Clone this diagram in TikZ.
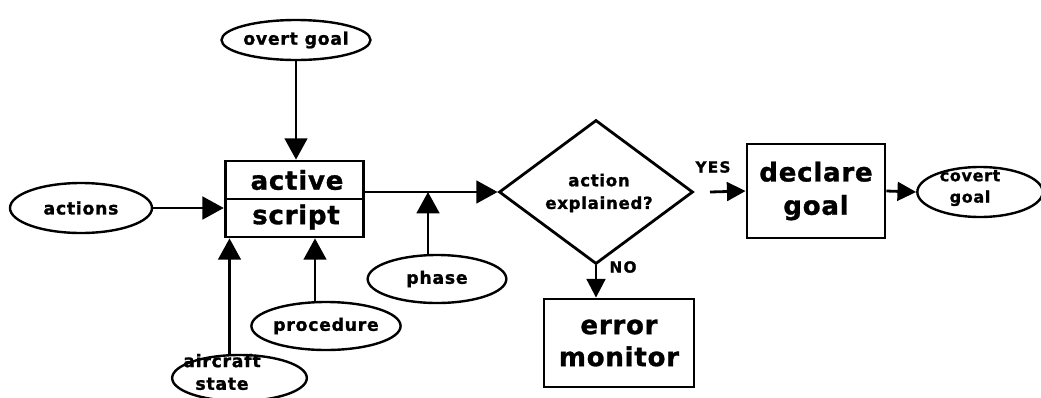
\documentclass[tikz,border=0pt]{standalone}
\usepackage{fontspec}
\newfontfamily\smf[LetterSpace=4,BoldFeatures={FakeBold=1.2}]{DejaVu Sans}
\newfontfamily\lbf[LetterSpace=8,BoldFeatures={FakeBold=1.2}]{DejaVu Sans}
\newfontfamily\bigf[LetterSpace=3,BoldFeatures={FakeBold=1.2}]{DejaVu Sans}
\usetikzlibrary{arrows.meta,shapes.geometric}
\begin{document}
\begin{tikzpicture}[x=0.75pt,y=-0.75pt,
  oval/.style={ellipse,draw,line width=1.8pt,inner sep=0pt,font=\smf\bfseries\fontsize{13}{14}\selectfont,align=center},
  bigbox/.style={rectangle,draw,line width=2.1pt,inner sep=0pt,font=\bigf\bfseries\fontsize{19.5}{24}\selectfont,align=center},
  smalltxt/.style={inner sep=0pt,font=\smf\bfseries\fontsize{13}{17}\selectfont,align=center},
  bigtxt/.style={inner sep=0pt,font=\bigf\bfseries\fontsize{19.5}{22}\selectfont},
  arr/.style={line width=2.1pt,-{Triangle[length=16pt,width=17pt]}},
  sarr/.style={line width=2.1pt,-{Triangle[length=14pt,width=14pt]}}]
\useasboundingbox (0,0) rectangle (1041,397);

% ovals
\node[oval,minimum width=106.5pt,minimum height=30pt] (overt) at (296,40) {overt goal};
\node[oval,minimum width=106.5pt,minimum height=37.5pt] (actions) at (81,208) {actions};
\node[oval,minimum width=104pt,minimum height=36pt] (phase) at (437,279) {phase};
\node[oval,minimum width=103.5pt,minimum height=36pt] (proc) at (326,326) {procedure};
\node[oval,minimum width=101pt,minimum height=34.5pt] (air) at (239.5,378) {};
\node[smalltxt] (airtxt) at (222,372) {aircraft\\state};
\node[oval,minimum width=94pt,minimum height=37.5pt] (covert) at (980,192) {};
\node[smalltxt,font=\smf\bfseries\fontsize{12}{16}\selectfont] (covtxt) at (970,188) {covert\\goal};

% active script box
\node[bigbox,minimum width=104pt,minimum height=57pt] (script) at (294.5,199) {};
\draw[line width=2.1pt] (script.west) -- (script.east);
\node[bigtxt] (activetxt) at (297,180) {active};
\node[bigtxt] (scripttxt) at (296,217) {script};

% decision diamond
\node[diamond,draw,line width=2.1pt,inner sep=0pt,minimum width=145.5pt,minimum height=108pt] (dia) at (596,192) {};
\node[smalltxt,font=\smf\bfseries\fontsize{12.5}{17}\selectfont] (diatxt) at (599,193) {action\\explained?};

% boxes
\node[bigbox,minimum width=112.5pt,minimum height=66pt,font=\bigf\bfseries\fontsize{19.5}{24}\selectfont] (err) at (619,343) {error\\monitor};
\node[bigbox,minimum width=103.5pt,minimum height=70.5pt,font=\bigf\bfseries\fontsize{19.5}{25}\selectfont] (decl) at (816,191) {declare\\goal};

% labels
\node[inner sep=0pt,font=\lbf\bfseries\fontsize{11.5}{12}\selectfont] (yes) at (713,167) {YES};
\node[inner sep=0pt,font=\lbf\bfseries\fontsize{11.5}{12}\selectfont] (no) at (623,267) {NO};

% connector helper points
\coordinate (linept) at (364,192);
\coordinate (phasept) at (428,192);
\coordinate (yesstart) at (710,192);

% connectors
\draw[arr] (overt.south) -- (overt.south |- script.north);
\draw[arr] (actions.east) -- (actions.east -| script.west);
\draw[arr] ([xshift=-7.5pt]air.north) -- ([xshift=-7.5pt]air.north |- script.south);
\draw[arr] ([xshift=-8.25pt]proc.north) -- ([xshift=-8.25pt]proc.north |- script.south);
\draw[line width=2.1pt] (linept) -- (phasept);
\draw[arr] (phasept) -- (dia.west);
\draw[arr] ([xshift=-6.75pt]phase.north) -- (phasept);
\draw[sarr] (dia.south) -- (dia.south |- err.north);
\draw[sarr] (yesstart) -- (decl.west);
\draw[sarr] (decl.east) -- (covert.west);
\end{tikzpicture}
\end{document}
